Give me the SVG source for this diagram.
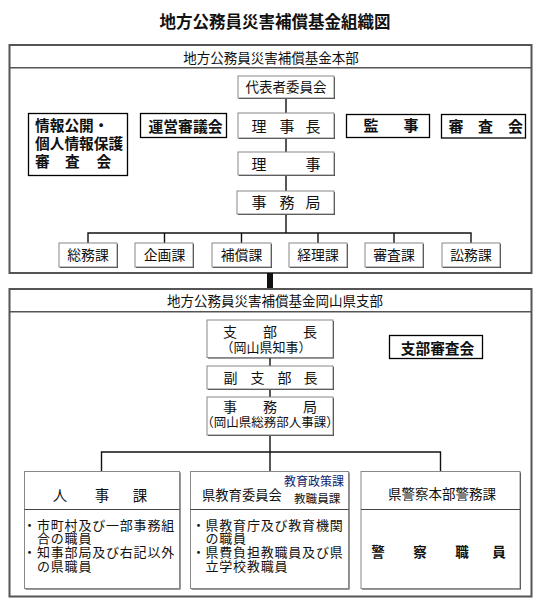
<svg xmlns="http://www.w3.org/2000/svg" width="545" height="609" viewBox="0 0 545 609">
<style>
text{font-family:"Noto Sans CJK JP","Noto Sans CJK SC",sans-serif;fill:#111;}
.b{font-weight:bold;}
.m{text-anchor:middle;}
.bd{font-size:13px;letter-spacing:0.8px;}
.outer{fill:none;stroke:#555;stroke-width:2;}
.hdr{fill:none;stroke:#555;stroke-width:1.5;}
.sh{fill:#333;}
.sb{fill:#fff;stroke:#888;stroke-width:1;}
.kb{fill:#fff;stroke:#000;stroke-width:1.3;}
.ln{stroke:#111;stroke-width:1.4;fill:none;}
</style>
<rect width="545" height="609" fill="#fff"/>
<text class="b m" x="275" y="28" font-size="16.5">地方公務員災害補償基金組織図</text>

<g id="honbu">
<rect class="outer" x="9.5" y="45" width="522" height="228"/>
<line class="hdr" x1="9.5" y1="67.7" x2="531.5" y2="67.7"/>
<text class="m" x="271" y="63" font-size="13.5">地方公務員災害補償基金本部</text>
</g>

<g id="connectors">
<path class="ln" d="M286 98V113M286 138V152M286 175V191M286 214V233M88 243V233H471V243M164.5 233V243M241.5 233V243M318 233V243M394 233V243"/>
<rect x="267" y="273" width="6" height="16" fill="#111"/>
<path class="ln" d="M270 358V366M270 389V397M270 435V452M101.5 472V452H440.5V472M270 452V472"/>
</g>

<g id="daihyo"><rect class="sh" x="239" y="77" width="96" height="22"/><rect class="sb" x="238" y="76" width="96" height="22"/><text class="m" x="286" y="92" font-size="13.5">代表者委員会</text></g>
<g id="rijicho"><rect class="sh" x="239" y="114" width="96" height="25"/><rect class="sb" x="238" y="113" width="96" height="25"/><text x="259 287 313" y="132" font-size="15" class="m">理事長</text></g>
<g id="riji"><rect class="sh" x="239" y="153" width="96" height="23"/><rect class="sb" x="238" y="152" width="96" height="23"/><text x="259 313" y="170" font-size="15" class="m">理事</text></g>
<g id="jimukyoku"><rect class="sh" x="238" y="192" width="97" height="23"/><rect class="sb" x="237" y="191" width="97" height="23"/><text x="259 287 313" y="207.5" font-size="15" class="m">事務局</text></g>

<g id="joho"><rect class="kb" x="28.5" y="113.5" width="99" height="62"/>
<text class="b" font-size="14.7"><tspan x="35" y="131">情報公開・</tspan><tspan x="35" y="148.5">個人情報保護</tspan><tspan x="35 65 96.5" y="167">審査会</tspan></text></g>
<g id="unei"><rect class="kb" x="140.5" y="113.5" width="86" height="24"/><text class="b m" x="185.5" y="131.5" font-size="14.8">運営審議会</text></g>
<g id="kanji"><rect class="kb" x="346.5" y="114.5" width="83" height="23"/><text class="b m" x="371 411" y="130.5" font-size="15">監事</text></g>
<g id="shinsakai"><rect class="kb" x="441.5" y="114.5" width="84" height="23.5"/><text class="b m" x="456 485.5 515.5" y="131.5" font-size="15">審査会</text></g>

<g id="somu"><rect class="sh" x="60" y="244" width="58" height="24"/><rect class="sb" x="59" y="243" width="58" height="24"/><text class="m" x="88" y="260" font-size="13.8">総務課</text></g>
<g id="kikaku"><rect class="sh" x="136" y="244" width="58" height="24"/><rect class="sb" x="135" y="243" width="58" height="24"/><text class="m" x="164.5" y="260" font-size="13.8">企画課</text></g>
<g id="hosho"><rect class="sh" x="213" y="244" width="59" height="24"/><rect class="sb" x="212" y="243" width="59" height="24"/><text class="m" x="241.5" y="260" font-size="13.8">補償課</text></g>
<g id="keiri"><rect class="sh" x="290" y="244" width="58" height="24"/><rect class="sb" x="289" y="243" width="58" height="24"/><text class="m" x="318" y="260" font-size="13.8">経理課</text></g>
<g id="shinsa"><rect class="sh" x="366" y="244" width="58" height="24"/><rect class="sb" x="365" y="243" width="58" height="24"/><text class="m" x="394" y="260" font-size="13.8">審査課</text></g>
<g id="shomu"><rect class="sh" x="443" y="244" width="58" height="24"/><rect class="sb" x="442" y="243" width="58" height="24"/><text class="m" x="471" y="260" font-size="13.8">訟務課</text></g>

<g id="shibu">
<rect class="outer" x="9.5" y="289" width="522" height="307.5"/>
<line class="hdr" x1="9.5" y1="311.7" x2="531.5" y2="311.7"/>
<text class="m" x="275" y="305.5" font-size="13.5">地方公務員災害補償基金岡山県支部</text>
</g>

<g id="shibucho"><rect class="sh" x="208" y="321" width="126" height="37.5"/><rect class="sb" x="207" y="320" width="126" height="37.5"/>
<text class="m"><tspan x="230 270 310" y="337" font-size="14">支部長</tspan><tspan x="266" y="352" font-size="13">（岡山県知事）</tspan></text></g>
<g id="fukushibucho"><rect class="sh" x="208" y="367" width="126" height="23"/><rect class="sb" x="207" y="366" width="126" height="23"/>
<text class="m" x="230.5 257.5 284.5 310.5" y="383" font-size="14">副支部長</text></g>
<g id="shibujimu"><rect class="sh" x="208" y="398" width="126" height="38"/><rect class="sb" x="207" y="397" width="126" height="38"/>
<text class="m"><tspan x="230 270 310" y="412" font-size="14">事務局</tspan><tspan x="270" y="427" font-size="12.5">（岡山県総務部人事課）</tspan></text></g>
<g id="shibushinsa"><rect class="kb" x="389.5" y="335.5" width="93" height="23"/><text class="b m" x="437.5" y="353.5" font-size="14.7">支部審査会</text></g>

<g id="jinji"><rect class="sh" x="25.5" y="472.5" width="155" height="117"/><rect class="sb" x="24.5" y="471.5" width="155" height="117"/>
<line x1="24.5" y1="509.5" x2="179.5" y2="509.5" stroke="#444" stroke-width="1"/>
<text class="m" x="60 102 140" y="500.5" font-size="14.5">人事課</text>
<text class="bd"><tspan x="23 37" y="529.5">・市町村及び一部事務組</tspan><tspan x="37" y="543.3">合の職員</tspan><tspan x="23 37" y="557.1">・知事部局及び右記以外</tspan><tspan x="37" y="570.9">の県職員</tspan></text></g>

<g id="kyoiku"><rect class="sh" x="191.5" y="472.5" width="158" height="117"/><rect class="sb" x="190.5" y="471.5" width="158" height="117"/>
<line x1="190.5" y1="509.5" x2="348.5" y2="509.5" stroke="#444" stroke-width="1"/>
<text x="202" y="500" font-size="13.3">県教育委員会</text>
<text x="284" y="486" font-size="12" style="fill:#14206e">教育政策課</text>
<text x="294" y="503" font-size="11.6">教職員課</text>
<text class="bd"><tspan x="192 205.5" y="529.5">・県教育庁及び教育機関</tspan><tspan x="205.5" y="543.3">の職員</tspan><tspan x="192 205.5" y="557.1">・県費負担教職員及び県</tspan><tspan x="205.5" y="570.9">立学校教職員</tspan></text></g>

<g id="keisatsu"><rect class="sh" x="362" y="472.5" width="159" height="117"/><rect class="sb" x="361" y="471.5" width="159" height="117"/>
<line x1="361" y1="509.5" x2="520" y2="509.5" stroke="#444" stroke-width="1"/>
<text class="m" x="442" y="498.5" font-size="13.5">県警察本部警務課</text>
<text class="b m" x="378 420 462 499" y="556.5" font-size="13.5">警察職員</text></g>
</svg>
